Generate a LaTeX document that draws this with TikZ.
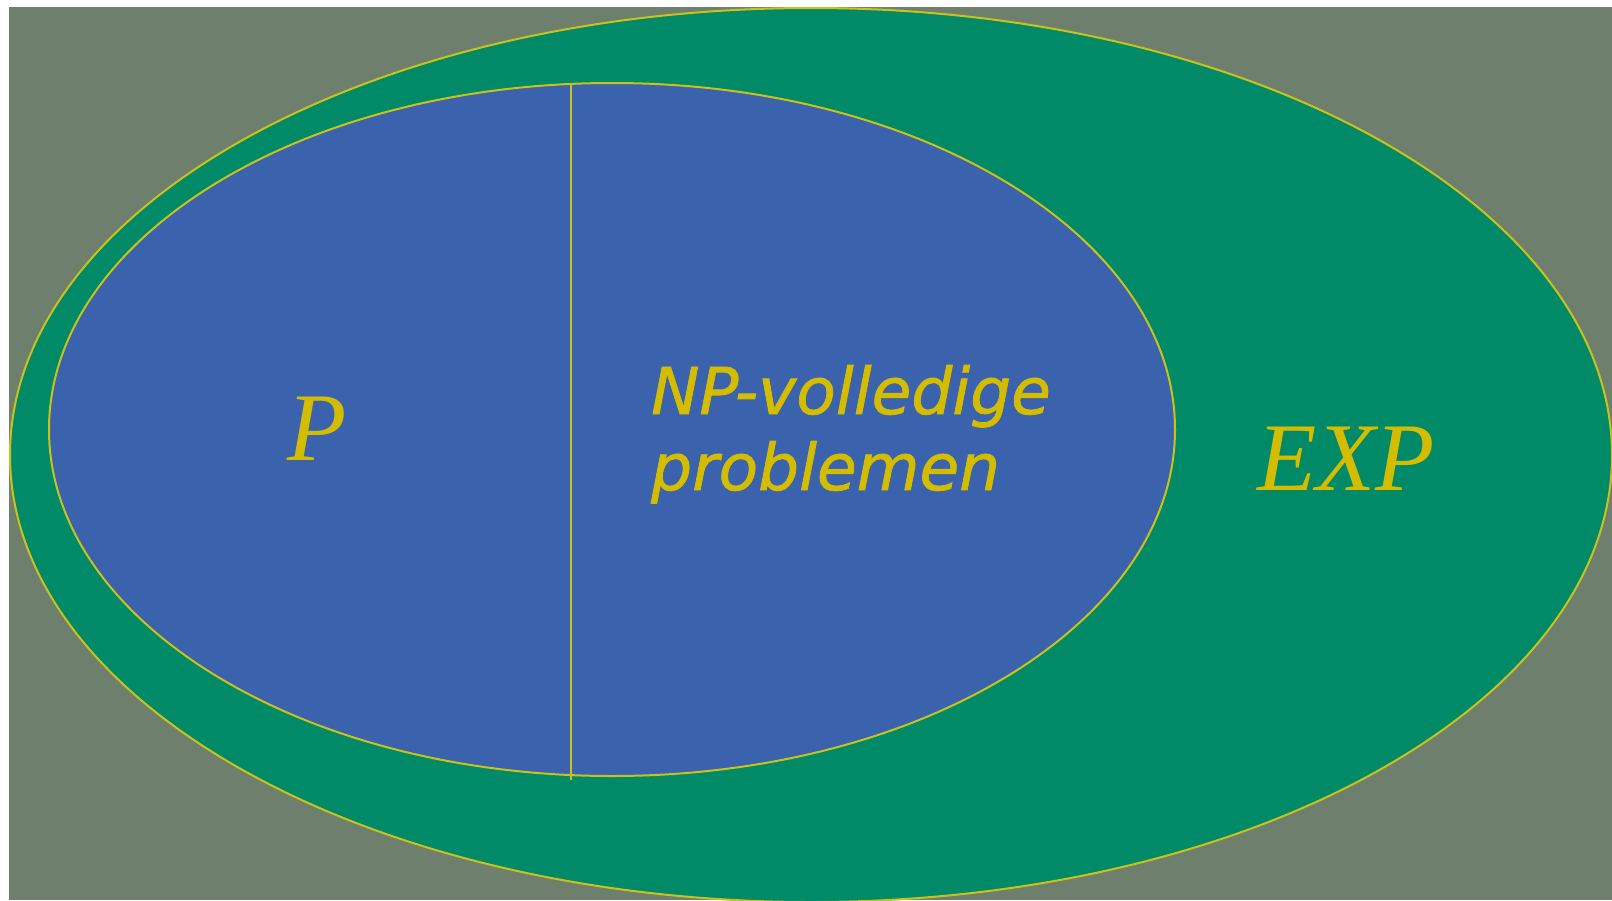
\documentclass[tikz,border=0pt]{standalone}
\usepackage{fontspec}
\setmainfont{Liberation Serif}
\newfontfamily\npfont[ItalicFeatures={FakeBold=1.2}]{DejaVu Sans}
\definecolor{bgwhite}{HTML}{FFFFFF}
\definecolor{bggray}{HTML}{6E7F6E}
\definecolor{expgreen}{HTML}{008A68}
\definecolor{npblue}{HTML}{3A62AD}
\definecolor{lbl}{HTML}{D4BC00}
\definecolor{rim}{HTML}{C9C21A}
\tikzset{
  rimline/.style={draw=rim, line width=2pt},
  serifl/.style={text=lbl, inner sep=0pt, anchor=base west, font=\fontsize{97}{100}\selectfont\itshape},
  sansl/.style={text=lbl, inner sep=0pt, anchor=base west, align=left, font=\fontsize{64.5}{76}\selectfont\npfont\itshape},
}
\begin{document}
\begin{tikzpicture}[x=1pt,y=-1pt]
\useasboundingbox (0,0) rectangle (1612,900);
\fill[bgwhite] (0,0) rectangle (1612,900);
\fill[bggray] (9,7) rectangle (1612,900);
\begin{scope}
\clip (9,7) rectangle (1612,900);
\filldraw[fill=expgreen, rimline] (811,455) ellipse [x radius=801pt, y radius=447pt];
\filldraw[fill=npblue, rimline] (612,429.5) ellipse [x radius=563pt, y radius=346.5pt];
\coordinate (divtop) at (571,83);
\coordinate (divbot) at (571,780);
\draw[rimline] (divtop) -- (divbot);
\end{scope}
\node[serifl] (p) at (287,460) {P};
\node[serifl] (exp) at (1257,490) {EXP};
\node[sansl] (np) at (651,490) {NP-volledige\\problemen};
\end{tikzpicture}
\end{document}
